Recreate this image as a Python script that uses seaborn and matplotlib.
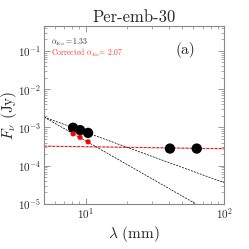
import matplotlib
matplotlib.use("Agg")
import matplotlib.pyplot as plt
import seaborn as sns
import pandas as pd

wavelength_mm = [8.1, 9.1, 10.4, 40.6, 63.4]
flux_jy = [9.8e-4, 8.5e-4, 7.2e-4, 2.8e-4, 2.8e-4]

# corrected Ka-band fluxes
corr_wavelength_mm = [8.1, 9.1, 10.4]
corr_flux_jy = [6.8e-4, 5.5e-4, 4.2e-4]

# fit lines (end points)
fit_x = [5, 100]
fit_alpha_y = [1.86e-3, 3.6e-5]
fit_corr_y = [1.86e-3, 3.8e-6]
fit_ff_y = [3.24e-4, 2.77e-4]

alpha_ka = 1.33
alpha_ka_corr = 2.07

sns.set_theme(style="ticks")
plt.rcParams['font.family'] = 'serif'
plt.rcParams['font.serif'] = ['cmr10', 'DejaVu Serif']
plt.rcParams['mathtext.fontset'] = 'cm'
plt.rcParams['axes.formatter.use_mathtext'] = True

fig = plt.figure(figsize=(2.49, 2.49), dpi=100)
ax = fig.add_axes([0.177, 0.181, 0.723, 0.715])

lines = pd.DataFrame({'x': fit_x, 'a': fit_alpha_y, 'c': fit_corr_y, 'ff': fit_ff_y})
ax.plot(lines['x'], lines['ff'], color='#ffaaaa', lw=1.1, alpha=0.8)
sns.lineplot(data=lines, x='x', y='ff', ax=ax, color='#cc0000', lw=0.6, linestyle=(0, (3, 2)))
sns.lineplot(data=lines, x='x', y='a', ax=ax, color='black', lw=0.5, linestyle=(0, (3, 1.5)))
sns.lineplot(data=lines, x='x', y='c', ax=ax, color='black', lw=0.5, linestyle=(0, (3, 1.5)))

sns.scatterplot(x=wavelength_mm, y=flux_jy, ax=ax, color='black', s=55, edgecolor='none', zorder=5)
sns.scatterplot(x=corr_wavelength_mm, y=corr_flux_jy, ax=ax, color='red', s=14, edgecolor='none', zorder=6)

ax.set_xscale('log')
ax.set_yscale('log')
ax.set_xlim(5, 100)
ax.set_ylim(1e-5, 0.45)

ax.set_title('Per-emb-30', fontsize=12, pad=3)
ax.set_xlabel(r'$\lambda$ (mm)', fontsize=11, labelpad=2)
ax.set_ylabel(r'$F_\nu$ (Jy)', fontsize=11, labelpad=-1)

ax.text(0.04, 0.895, r'$\alpha_{Ka}=%.2f$' % alpha_ka, transform=ax.transAxes, fontsize=5.5, color='#333333')
ax.text(0.04, 0.83, r'Corrected $\alpha_{Ka}$= %.2f' % alpha_ka_corr, transform=ax.transAxes, fontsize=5.5, color='#ff3333')
ax.text(0.73, 0.84, '(a)', transform=ax.transAxes, fontsize=11)

for s in ax.spines.values():
    s.set_color('#888888')
    s.set_linewidth(0.8)
ax.tick_params(which='both', direction='in', top=True, right=True, color='#888888', labelsize=8, pad=2)
ax.tick_params(which='major', length=4, width=0.6)
ax.tick_params(which='minor', length=2, width=0.5)

fig.savefig('out.png', dpi=100)
